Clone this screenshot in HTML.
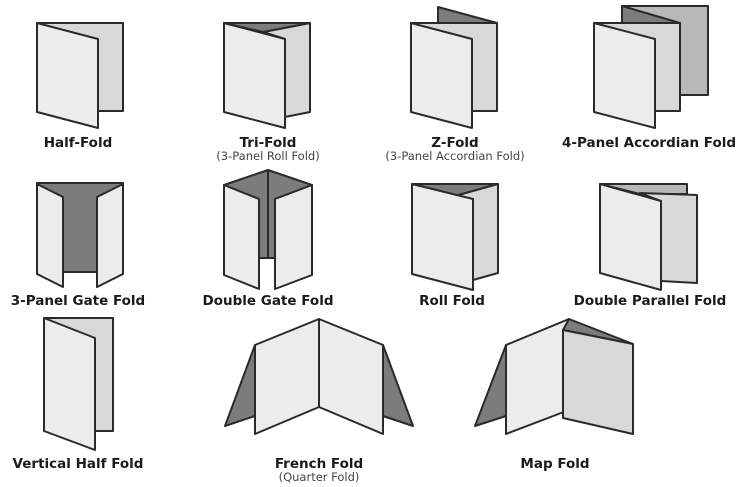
<!DOCTYPE html>
<html><head><style>
html,body{margin:0;padding:0;background:#fff;}
svg{display:block;}
text{font-family:"DejaVu Sans","Liberation Sans",sans-serif;fill:#1a1a1a;text-anchor:middle;}
.t{font-size:13.5px;font-weight:bold;}
.s{font-size:11.5px;fill:#444;}
polygon,rect,line{stroke:#2a2a2a;stroke-width:2;stroke-linejoin:round;}
.f{fill:#ececec}.b{fill:#d8d8d8}.d{fill:#7c7c7c}.m{fill:#b8b8b8}
</style></head><body>
<svg width="750" height="487" viewBox="0 0 750 487">
<!-- Half-Fold -->
<rect class="b" x="37" y="23" width="86" height="88"/>
<polygon class="f" points="37,23 98,39 98,128 37,112"/>
<text class="t" x="78" y="147">Half-Fold</text>
<!-- Tri-Fold -->
<polygon class="b" points="263,32 310,23 310,112 285,117 285,39"/>
<polygon class="d" points="224,23 310,23 263,32"/>
<polygon class="f" points="224,23 285,39 285,128 224,112"/>
<text class="t" x="268" y="147">Tri-Fold</text>
<text class="s" x="268" y="160">(3-Panel Roll Fold)</text>
<!-- Z-Fold -->
<polygon class="d" points="438,7 497,23 438,23"/>
<rect class="b" x="411" y="23" width="86" height="88"/>
<polygon class="f" points="411,23 472,39 472,128 411,112"/>
<text class="t" x="455" y="147">Z-Fold</text>
<text class="s" x="455" y="160">(3-Panel Accordian Fold)</text>
<!-- 4-Panel -->
<rect class="m" x="622" y="6" width="86" height="89"/>
<rect class="b" x="594" y="23" width="86" height="88"/>
<polygon class="d" points="622,6 680,23 622,23"/>
<polygon class="f" points="594,23 655,39 655,128 594,112"/>
<text class="t" x="649" y="147">4-Panel Accordian Fold</text>
<!-- 3-Panel Gate -->
<rect class="d" x="37" y="183" width="86" height="89"/>
<polygon class="f" points="37,184 63,197 63,287 37,274"/>
<polygon class="f" points="97,197 123,184 123,274 97,287"/>
<text class="t" x="78" y="305">3-Panel Gate Fold</text>
<!-- Double Gate -->
<polygon class="d" points="224,185 268,170 312,185 275,199 275,258 268,258 259,258 259,199"/>
<line x1="268" y1="170" x2="268" y2="258"/>
<polygon class="f" points="224,185 259,199 259,289 224,275"/>
<polygon class="f" points="275,199 312,185 312,275 275,289"/>
<text class="t" x="268" y="305">Double Gate Fold</text>
<!-- Roll Fold -->
<polygon class="d" points="412,184 498,184 455,196"/>
<polygon class="b" points="455,196 498,184 498,273 473,280 473,199"/>
<polygon class="f" points="412,184 473,199 473,290 412,274"/>
<text class="t" x="452" y="305">Roll Fold</text>
<!-- Double Parallel -->
<polygon class="m" points="600,184 687,184 687,194 640,194"/>
<polygon class="b" points="640,193 697,195 697,283 661,281 661,201"/>
<polygon class="f" points="600,184 661,201 661,290 600,273"/>
<text class="t" x="650" y="305">Double Parallel Fold</text>
<!-- Vertical Half -->
<rect class="b" x="44" y="318" width="69" height="113"/>
<polygon class="f" points="44,318 95,338 95,450 44,431"/>
<text class="t" x="78" y="468">Vertical Half Fold</text>
<!-- French -->
<polygon class="d" points="225,426 255,345 255,416"/>
<polygon class="d" points="413,426 383,345 383,416"/>
<polygon class="f" points="255,345 319,319 319,407 255,434"/>
<polygon class="f" points="319,319 383,345 383,434 319,407"/>
<text class="t" x="319" y="468">French Fold</text>
<text class="s" x="319" y="481">(Quarter Fold)</text>
<!-- Map -->
<polygon class="d" points="475,426 506,345 506,416"/>
<polygon class="f" points="506,345 569,319 569,410 506,434"/>
<polygon class="d" points="569,319 633,344 563,330"/>
<polygon class="b" points="563,330 633,344 633,434 563,418"/>
<text class="t" x="555" y="468">Map Fold</text>
</svg>
</body></html>
